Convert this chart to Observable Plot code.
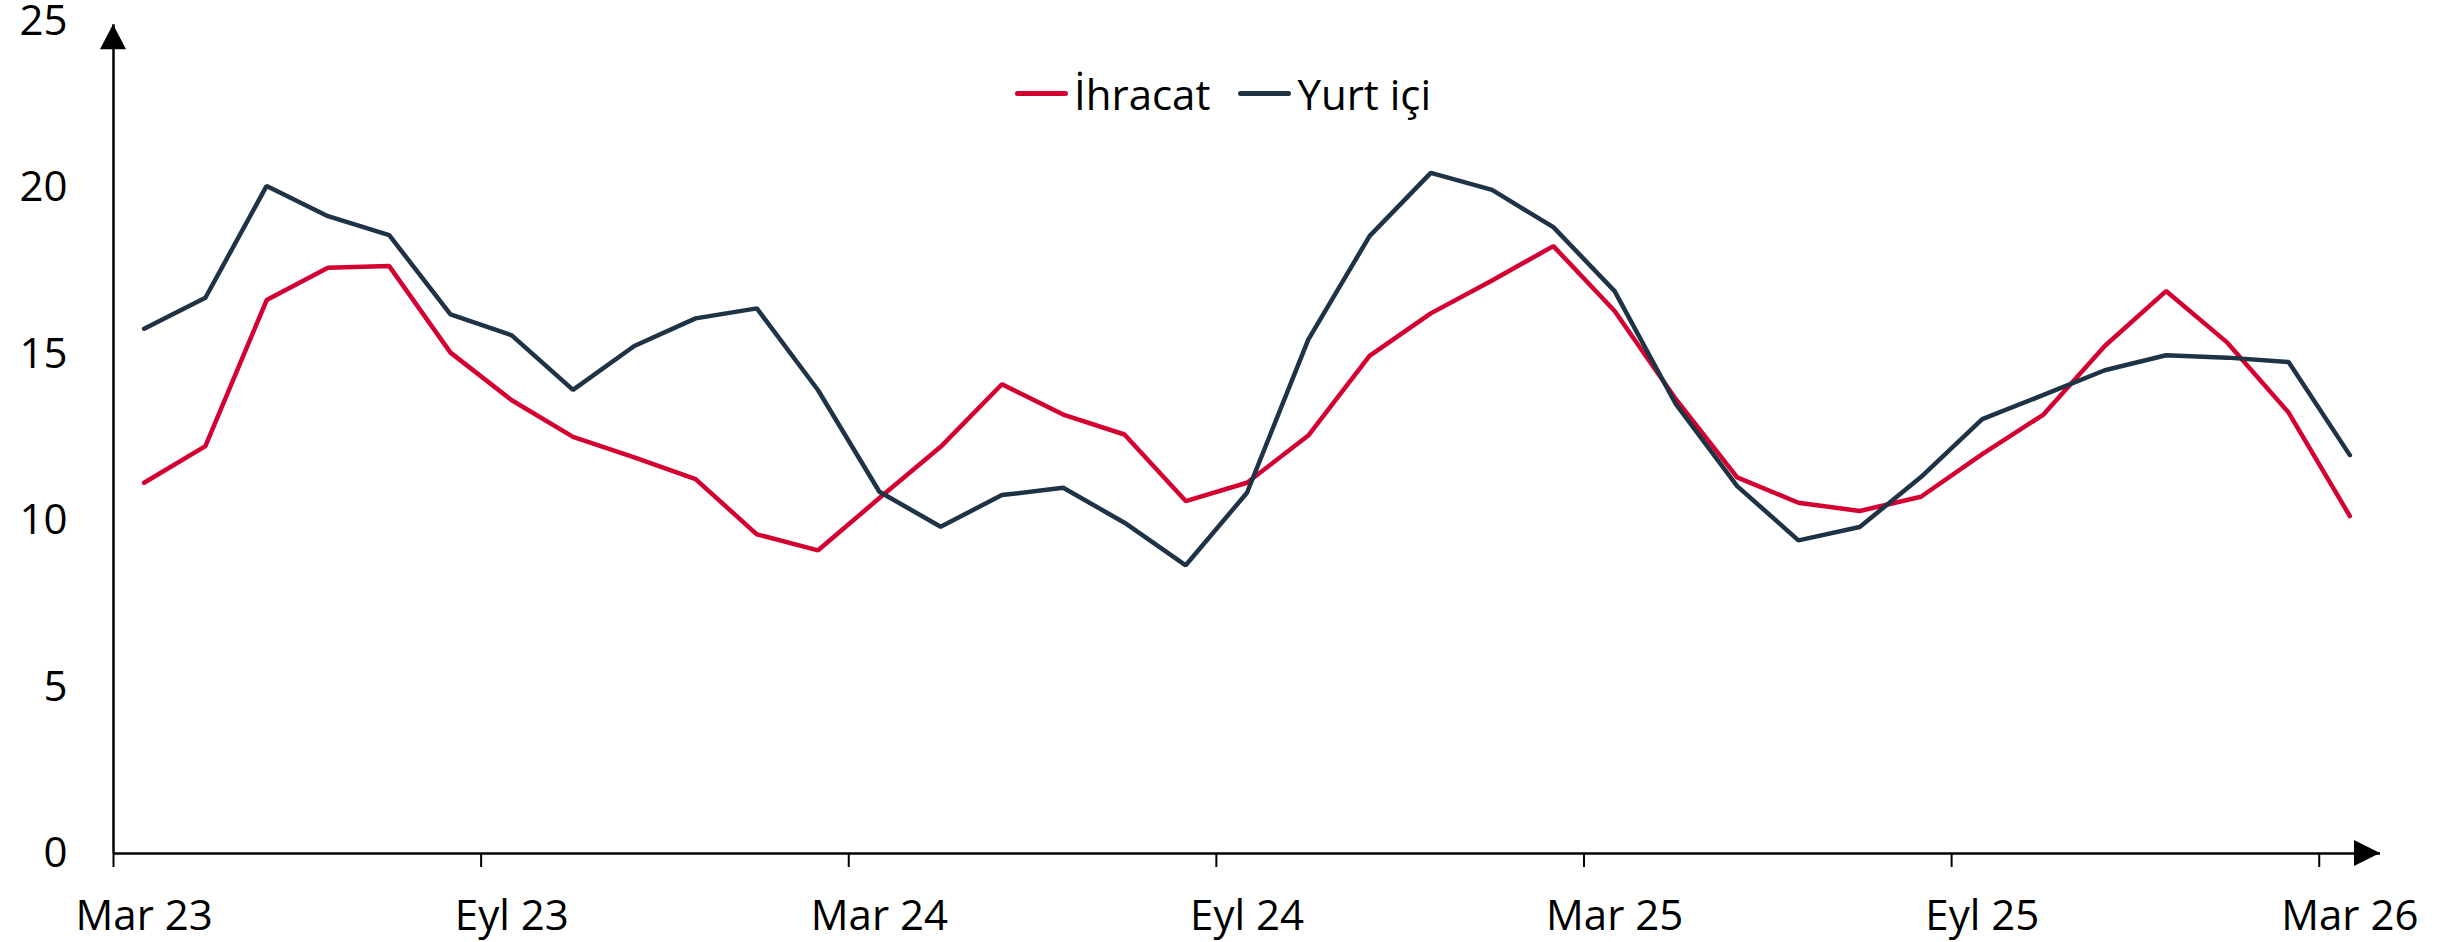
<!DOCTYPE html>
<html><head><meta charset="utf-8">
<script src="https://cdn.jsdelivr.net/npm/d3@7"></script>
<script src="https://cdn.jsdelivr.net/npm/@observablehq/plot@0.6"></script>
<style>
body{margin:0;background:#fff;}
#wrap{position:relative;width:2463px;height:942px;overflow:hidden;}
#legend{position:absolute;top:65px;left:1015px;display:flex;align-items:center;font-family:"Open Sans";font-size:42px;color:#000;white-space:nowrap;}
.item{display:flex;align-items:center;margin-right:28px;}
.sw{width:53px;height:5px;border-radius:3px;margin-right:6px;}
</style></head><body><div id="wrap"><div id="legend"></div></div>
<script>
const months = ["Mar 23","Nis 23","May 23","Haz 23","Tem 23","Ağu 23","Eyl 23","Eki 23","Kas 23","Ara 23","Oca 24","Şub 24",
"Mar 24","Nis 24","May 24","Haz 24","Tem 24","Ağu 24","Eyl 24","Eki 24","Kas 24","Ara 24","Oca 25","Şub 25",
"Mar 25","Nis 25","May 25","Haz 25","Tem 25","Ağu 25","Eyl 25","Eki 25","Kas 25","Ara 25","Oca 26","Şub 26","Mar 26"];
const ihracat = [11.14,12.24,16.63,17.6,17.65,15.05,13.62,12.52,11.9,11.25,9.59,9.11,
10.68,12.22,14.1,13.19,12.59,10.59,11.14,12.56,14.95,16.23,17.22,18.25,
16.3,13.65,11.3,10.54,10.29,10.72,12.0,13.19,15.25,16.9,15.35,13.25,10.14];
const yurtIci = [15.77,16.7,20.06,19.15,18.58,16.2,15.57,13.93,15.25,16.08,16.38,13.92,
10.87,9.82,10.77,10.99,9.94,8.66,10.84,15.44,18.55,20.45,19.94,18.82,
16.9,13.5,11.04,9.41,9.81,11.31,13.05,13.78,14.52,14.97,14.9,14.77,11.97];
const tickLabels = ["Mar 23","Eyl 23","Mar 24","Eyl 24","Mar 25","Eyl 25","Mar 26"];
const yTicks = [0,5,10,15,20,25];
const seriesNames = ["İhracat","Yurt içi"];
const colors = ["#d50032","#1f3346"];

const tickIdx = tickLabels.map(l => months.indexOf(l));
const data = months.flatMap((m,i)=>[
  {m, x:i+0.5, v:ihracat[i], s:seriesNames[0]},
  {m, x:i+0.5, v:yurtIci[i], s:seriesNames[1]}
]);

const plot = Plot.plot({
  width:2463, height:942,
  marginLeft:113, marginRight:83, marginTop:21, marginBottom:89,
  style:{fontFamily:"Open Sans", fontSize:"42px", color:"#000", background:"#fff", overflow:"visible"},
  x:{type:"linear", domain:[0, months.length]},
  y:{domain:[0,25]},
  color:{domain:seriesNames, range:colors},
  marks:[
    Plot.axisY({ticks:yTicks, tickSize:0, tickPadding:46, label:null, fontSize:42, tickFormat:d=>String(d)}),
    Plot.axisX({ticks:tickIdx, tickSize:14, tickFormat:()=>"", label:null, strokeWidth:2}),
    Plot.axisX({ticks:tickIdx.map(t=>t+0.5), tickSize:0, tickPadding:47, label:null, fontSize:42,
      tickFormat:d=>tickLabels[tickIdx.indexOf(Math.round(d-0.5))]}),
    Plot.ruleY([0], {stroke:"#000", strokeWidth:2.5}),
    Plot.ruleX([{x:0, y1:0, y2:24.9}], {x:"x", y1:"y1", y2:"y2", stroke:"#000", strokeWidth:2.5}),
    Plot.line(data, {x:"x", y:"v", z:"s", stroke:"s", strokeWidth:4.5, strokeLinejoin:"miter", strokeLinecap:"round"})
  ]
});

document.getElementById("wrap").appendChild(plot);

// arrowheads placed through the plot's scales
const sx = plot.scale("x"), sy = plot.scale("y");
const svg = d3.select(plot);
const xt = sx.apply(months.length), yt0 = sy.apply(0);
svg.append("path").attr("d", `M${xt},${yt0}L${xt-26},${yt0-13}L${xt-26},${yt0+13}Z`).attr("fill","#000");
const xa = sx.apply(0), ya = sy.apply(24.9);
svg.append("path").attr("d", `M${xa},${ya}L${xa-13},${ya+25}L${xa+13},${ya+25}Z`).attr("fill","#000");

// legend
const lg = document.getElementById("legend");
seriesNames.forEach((n,i)=>{
  const it = document.createElement("div"); it.className="item";
  const sw = document.createElement("div"); sw.className="sw"; sw.style.background=colors[i];
  const tx = document.createElement("span"); tx.textContent=n;
  it.appendChild(sw); it.appendChild(tx); lg.appendChild(it);
});
lg.style.zIndex = 2;
plot.style.position = "absolute"; plot.style.left = "0"; plot.style.top = "0";
</script>
</body></html>
